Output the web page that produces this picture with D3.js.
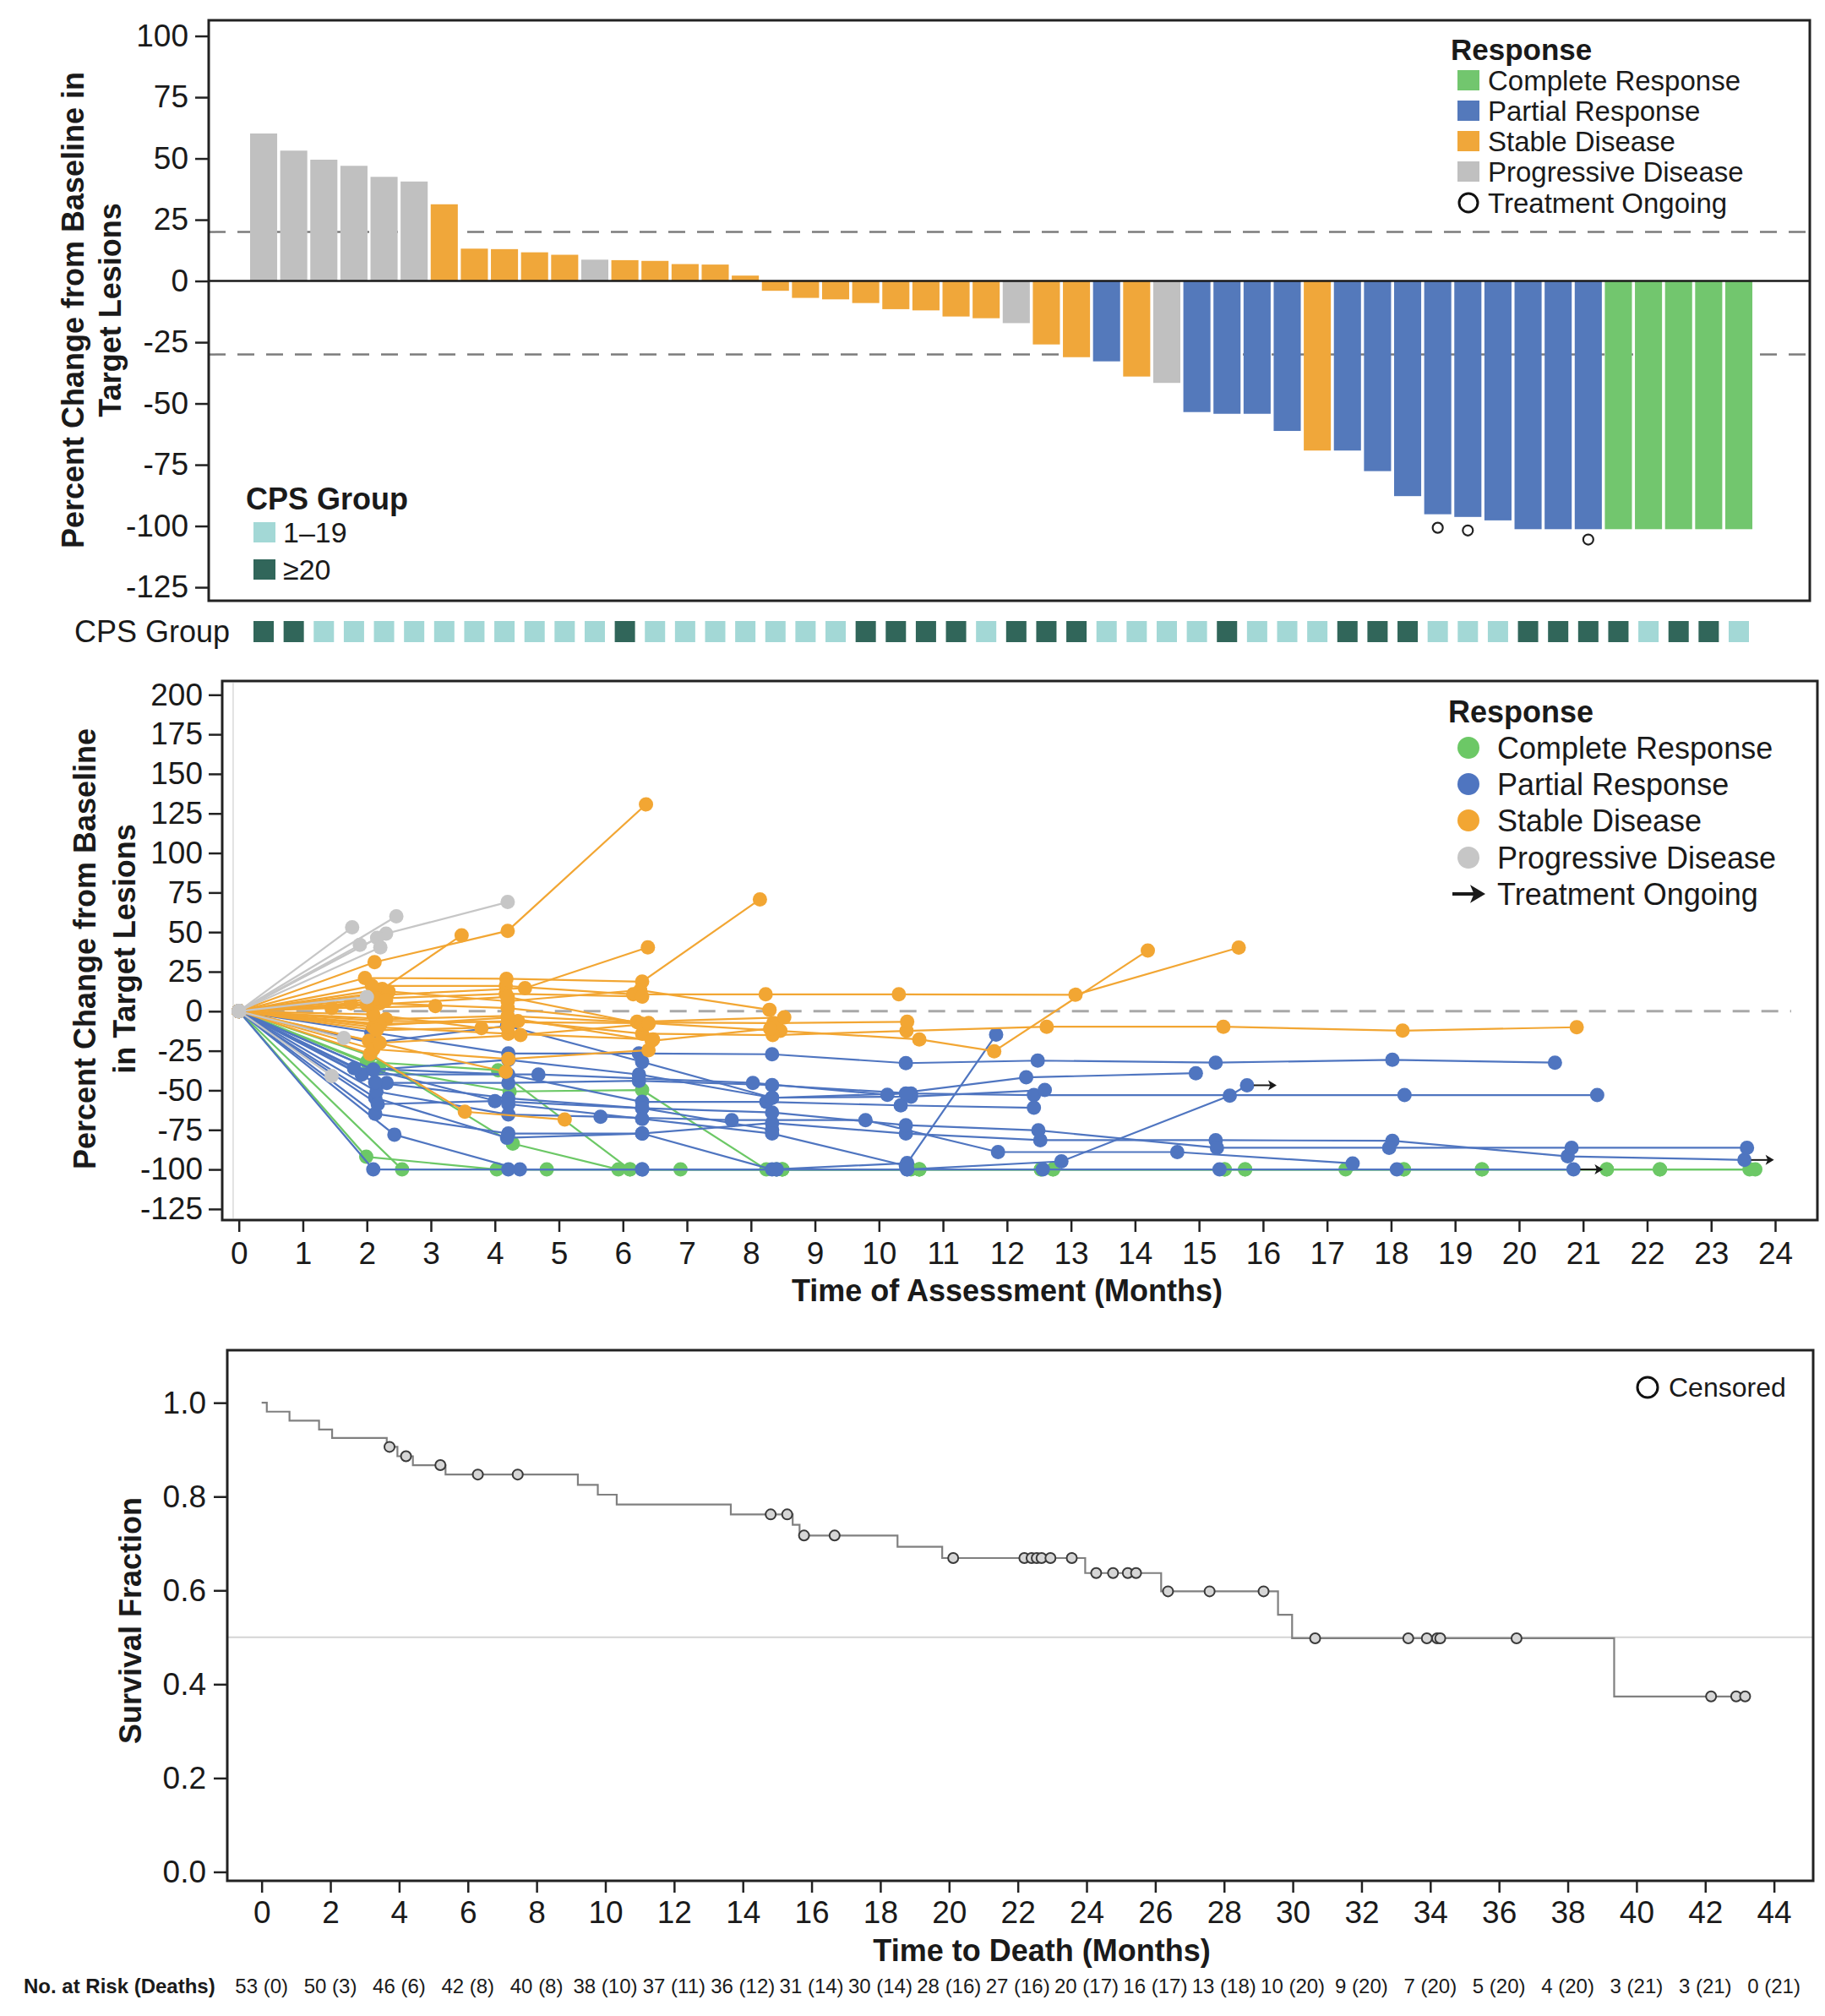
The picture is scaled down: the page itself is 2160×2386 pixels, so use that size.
<!DOCTYPE html>
<html>
<head>
<meta charset="utf-8">
<script src="https://cdn.jsdelivr.net/npm/d3@7"></script>
<style>
  body { margin: 0; background: #fff; }
  text { font-family: "Liberation Sans", Arial, sans-serif; fill: #1a1a1a; }
</style>
</head>
<body>
<div class="chart"></div>
<script>
// ---------------- waterfall data (best % change, one bar per patient) ----------------
var wfValues = [60.2, 53.2, 49.5, 47, 42.5, 40.6, 31.3, 13.2, 13, 11.7, 10.7, 8.7, 8.5, 8.2, 6.9, 6.7, 2.2,
  -4, -6.9, -7.5, -9, -11.5, -12, -14.5, -15.2, -17.2, -25.9, -31.1, -32.8, -39, -41.6, -53.5, -54.2,
  -54.2, -61.2, -69.2, -69.2, -77.6, -87.8, -95.2, -96.3, -97.7, -100, -100, -100, -100, -100, -100, -100, -100];
var wfResponse = ["PD", "PD", "PD", "PD", "PD", "PD", "SD", "SD", "SD", "SD", "SD", "PD", "SD", "SD", "SD",
  "SD", "SD", "SD", "SD", "SD", "SD", "SD", "SD", "SD", "SD", "PD", "SD", "SD", "PR", "SD", "PD", "PR", "PR",
  "PR", "PR", "SD", "PR", "PR", "PR", "PR", "PR", "PR", "PR", "PR", "PR", "CR", "CR", "CR", "CR", "CR"];
// 1 = CPS 1-19, 2 = CPS >=20
var wfCps = [2, 2, 1, 1, 1, 1, 1, 1, 1, 1, 1, 1, 2, 1, 1, 1, 1, 1, 1, 1, 2, 2, 2, 2, 1, 2, 2, 2, 1, 1, 1, 1, 2,
  1, 1, 1, 2, 2, 2, 1, 1, 1, 2, 2, 2, 2, 1, 2, 2, 1];
var wfOngoing = [39, 40, 44];
var wfTicks = [100, 75, 50, 25, 0, -25, -50, -75, -100, -125];
var wfRefLines = [20, -30];

// ---------------- spider plot data: [month, % change] per patient ----------------
var spiderCR = [
  [[0, 0], [1.99, -92], [4.03, -100], [6.9, -100], [8.49, -100], [10.63, -100], [12.72, -100], [15.72, -100], [18.2, -100], [21.37, -100], [22.2, -100], [23.6, -100]],
  [[0, 0], [2.55, -100], [4.81, -100], [6.11, -100], [8.49, -100], [10.63, -100], [12.53, -100], [15.4, -100], [17.29, -100], [19.42, -100], [22.2, -100], [23.69, -100]],
  [[0, 0], [2.19, -36], [4.23, -50.7], [6.3, -49.8], [8.24, -100], [10.5, -100]],
  [[0, 0], [2.05, -28], [4.28, -83.7], [5.93, -100], [8.49, -100], [10.63, -100], [12.53, -100], [15.4, -100], [18.2, -100]],
  [[0, 0], [2.0, -32], [4.05, -37.3], [6.11, -100], [8.4, -100], [12.72, -100], [15.72, -100], [19.42, -100], [21.37, -100]]
];
var spiderPR = [
  [[0, 0], [2.13, -54.7], [4.19, -80], [6.3, -77.3], [8.33, -100], [10.44, -96], [11.83, -14.8]],
  [[0, 0], [2.07, -13.3], [4.21, -26.7], [6.25, -26.7], [8.33, -27.2], [10.42, -32.8], [12.48, -31.2], [15.26, -32.5], [18.02, -30.7], [20.56, -32.5]],
  [[0, 0], [1.92, -40], [4.68, -40], [8.03, -45.3], [10.13, -52.8], [12.3, -41.8], [14.95, -39.2]],
  [[0, 0], [2.31, -45.3], [4.21, -45.3], [6.25, -44], [8.33, -46.7], [10.5, -52], [12.42, -53], [18.21, -53], [21.22, -53]],
  [[0, 0], [2.43, -78], [4.39, -100], [6.3, -100], [8.4, -100], [10.44, -100], [12.85, -94.9], [15.48, -53.4], [15.75, -46.8]],
  [[0, 0], [2.15, -50.7], [4.21, -65.3], [5.65, -66.7], [7.7, -68.8], [9.79, -68.8], [11.86, -89], [14.66, -89], [17.4, -96.2]],
  [[0, 0], [2.13, -64.8], [4.21, -77.3], [6.3, -77.3], [8.33, -70.7], [10.42, -77.3], [12.52, -81.5], [15.26, -81.5], [18.02, -81.9], [20.76, -91.7], [23.52, -94]],
  [[0, 0], [2.17, -58.7], [4.0, -56.8], [6.3, -61.3], [8.33, -64], [10.42, -72], [12.49, -75.3], [15.28, -86.3], [17.97, -86.3], [20.82, -86.3], [23.56, -86.3]],
  [[0, 0], [1.8, -36], [4.21, -40], [6.3, -57.3], [8.24, -57.3], [10.34, -59.5], [12.42, -61]],
  [[0, 0], [2.07, -20], [4.19, -9.3], [6.3, -32], [8.33, -54.7], [10.5, -54], [12.59, -49.8]],
  [[0, 0], [2.1, -100], [4.21, -100], [6.3, -100], [8.4, -100], [10.44, -100], [12.56, -100], [15.32, -100], [18.09, -100], [20.85, -100]],
  [[0, 0], [2.13, -45], [4.21, -55], [6.3, -61.3], [8.33, -75]],
  [[0, 0], [2.1, -37], [4.21, -30.7], [6.25, -40], [8.33, -54.7], [10.42, -52]],
  [[0, 0], [2.1, -37], [4.21, -58.7], [6.3, -68], [8.33, -77.3], [10.42, -97.7]]
];
var spiderSD = [
  [[0, 0], [2.12, 31], [4.2, 50.8], [6.36, 130.7]],
  [[0, 0], [2.24, 14], [3.48, 48]],
  [[0, 0], [1.97, 21], [4.18, 20.5], [6.3, 18.7], [8.14, 70.7]],
  [[0, 0], [2.1, 10], [4.47, 14.6], [6.39, 40.4]],
  [[0, 0], [2.08, 16], [4.17, 16], [6.16, 10.7], [8.23, 10.7], [10.31, 10.7], [13.07, 10.4], [15.62, 40.2]],
  [[0, 0], [2.15, -6], [4.21, -7], [6.4, -7.5], [8.46, -12.4], [10.63, -17.8], [11.8, -25.3], [14.2, 38.4]],
  [[0, 0], [2.2, -8], [4.36, -6.2], [6.3, -14.2], [8.34, -15.1], [10.43, -12.4], [12.62, -9.8], [15.38, -9.8], [18.18, -12.3], [20.9, -10.1]],
  [[0, 0], [2.05, -27], [3.53, -63.5], [5.09, -68.5]],
  [[0, 0], [2.03, -18.7], [4.17, -38.3]],
  [[0, 0], [2.1, -24], [4.21, -30.2], [6.4, -24.6]],
  [[0, 0], [2.3, -5], [4.2, -3], [6.23, -7.1], [8.35, -7.5], [10.44, -6.7]],
  [[0, 0], [2.34, 12.5], [4.2, 6.3], [6.27, 13.3], [8.29, 0.9]],
  [[0, 0], [2.2, 5], [4.2, 2], [6.22, -6.7], [8.52, -3.9]],
  [[0, 0], [2.1, -10], [4.21, -14.2], [6.47, -17.8]],
  [[0, 0], [2.15, 8], [4.17, 11], [6.3, 9.3]],
  [[0, 0], [1.45, 2], [3.07, 3.2]],
  [[0, 0], [2.1, -2], [3.79, -10.7]],
  [[0, 0], [2.2, -9], [4.2, -4], [6.45, -18.7], [8.3, -11]],
  [[0, 0], [2.0, 4], [4.2, 9], [6.3, -8]],
  [[0, 0], [1.75, 5], [2.3, 7]],
  [[0, 0], [2.15, -12], [4.2, -10]],
  [[0, 0], [2.2, -20], [4.4, -15], [6.4, -8]]
];
var spiderPD = [
  [[0, 0], [1.77, 53]],
  [[0, 0], [2.46, 60]],
  [[0, 0], [2.3, 49], [4.2, 69]],
  [[0, 0], [2.16, 46.3]],
  [[0, 0], [1.89, 41.9]],
  [[0, 0], [2.21, 40.4]],
  [[0, 0], [1.64, -16.9]],
  [[0, 0], [1.45, -40.9]],
  [[0, 0], [2.0, 9]]
];
var spiderOngoingPR = [4, 6, 10];
var spiderXTicks = [0, 1, 2, 3, 4, 5, 6, 7, 8, 9, 10, 11, 12, 13, 14, 15, 16, 17, 18, 19, 20, 21, 22, 23, 24];
var spiderYTicks = [200, 175, 150, 125, 100, 75, 50, 25, 0, -25, -50, -75, -100, -125];

// ---------------- Kaplan-Meier data ----------------
var kmTimes = [0, 0.15, 0.81, 1.67, 2.05, 3.64, 3.95, 4.4, 5.35, 9.2, 9.78, 10.33, 13.65, 15.45, 15.65,
  18.5, 19.8, 23.96, 26.17, 29.57, 29.98, 39.35];
var kmSurv = [1.0, 0.981, 0.962, 0.943, 0.925, 0.906, 0.886, 0.867, 0.847, 0.825, 0.804, 0.783, 0.762, 0.740, 0.717,
  0.693, 0.669, 0.637, 0.598, 0.548, 0.498, 0.374];
var kmLastTime = 43.16;
var censorTimes = [3.72, 4.2, 5.2, 6.29, 7.45, 14.81, 15.29, 15.78, 16.67, 20.12, 22.19, 22.4, 22.55, 22.69, 22.95,
  23.57, 24.28, 24.77, 25.2, 25.44, 26.37, 27.58, 29.15, 30.65, 33.36, 33.9, 34.2, 34.29, 36.51, 42.17, 42.9, 43.16];
var kmXTicks = [0, 2, 4, 6, 8, 10, 12, 14, 16, 18, 20, 22, 24, 26, 28, 30, 32, 34, 36, 38, 40, 42, 44];
var kmYTicks = [0, 0.2, 0.4, 0.6, 0.8, 1.0];
var riskLabels = ["53 (0)", "50 (3)", "46 (6)", "42 (8)", "40 (8)", "38 (10)", "37 (11)", "36 (12)", "31 (14)",
  "30 (14)", "28 (16)", "27 (16)", "20 (17)", "16 (17)", "13 (18)", "10 (20)", "9 (20)", "7 (20)", "5 (20)",
  "4 (20)", "3 (21)", "3 (21)", "0 (21)"];

// ---------------- legends ----------------
var responseNames = ["Complete Response", "Partial Response", "Stable Disease", "Progressive Disease"];
var responseKeys = ["CR", "PR", "SD", "PD"];
var cpsNames = ["1\u201319", "\u226520"];

var barColors = { CR: "#72c66e", PR: "#5479bb", SD: "#f0a73a", PD: "#c0c0c0" };
var dotColors = { CR: "#6cc866", PR: "#4f75c0", SD: "#f2a633", PD: "#c6c6c6" };
var cpsColors = { 1: "#a3d8d6", 2: "#31665a" };
var FONT = "'Liberation Sans', Arial, sans-serif";

var svg = d3.select(".chart")
  .append("svg")
  .attr("width", 2160)
  .attr("height", 2386)
  .style("background", "#fff");

function styleAxis(g, size) {
  g.select(".domain").remove();
  g.selectAll(".tick line").attr("stroke", "#222").attr("stroke-width", 2.5);
  g.selectAll(".tick text")
    .attr("font-size", size)
    .attr("font-family", FONT)
    .attr("fill", "#1a1a1a");
}

function frame(box) {
  svg.append("rect")
    .attr("x", box.left)
    .attr("y", box.top)
    .attr("width", box.right - box.left)
    .attr("height", box.bottom - box.top)
    .attr("fill", "none")
    .attr("stroke", "#222")
    .attr("stroke-width", 3);
}

function rotatedTitle(x, y, label) {
  svg.append("text")
    .attr("transform", `translate(${x}, ${y}) rotate(-90)`)
    .attr("text-anchor", "middle")
    .attr("dominant-baseline", "central")
    .attr("font-size", 36)
    .attr("font-weight", "bold")
    .text(label);
}

// =============== Panel 1: waterfall ===============
var wf = { left: 247, right: 2142, top: 24, bottom: 711 };

var wfX = d3.scaleBand()
  .domain(d3.range(wfValues.length))
  .range([294.2, 2075.8])
  .paddingInner(0.1)
  .paddingOuter(0.05);

var wfY = d3.scaleLinear()
  .domain([-130.5, 106.4])
  .range([wf.bottom, wf.top]);

// reference lines
svg.selectAll(".wf-ref")
  .data(wfRefLines)
  .enter()
  .append("line")
  .attr("x1", wf.left)
  .attr("x2", wf.right)
  .attr("y1", d => wfY(d))
  .attr("y2", d => wfY(d))
  .attr("stroke", "#7c7c7c")
  .attr("stroke-width", 2.5)
  .attr("stroke-dasharray", "20,14");

// bars (a -100 bar is drawn 1.3 units past the tick, as in the source)
svg.append("g")
  .selectAll("rect")
  .data(wfValues)
  .enter()
  .append("rect")
  .attr("x", (d, i) => wfX(i))
  .attr("width", wfX.bandwidth())
  .attr("y", d => wfY(Math.max(0, d)))
  .attr("height", d => Math.abs(wfY(d <= -100 ? d - 1.3 : d) - wfY(0)))
  .attr("fill", (d, i) => barColors[wfResponse[i]]);

// zero line
svg.append("line")
  .attr("x1", wf.left)
  .attr("x2", wf.right)
  .attr("y1", wfY(0))
  .attr("y2", wfY(0))
  .attr("stroke", "#1a1a1a")
  .attr("stroke-width", 2.5);

// treatment ongoing markers
svg.selectAll(".wf-ongoing")
  .data(wfOngoing)
  .enter()
  .append("circle")
  .attr("cx", d => wfX(d) + wfX.bandwidth() / 2)
  .attr("cy", d => wfY(wfValues[d]) + 16)
  .attr("r", 6)
  .attr("fill", "#fff")
  .attr("stroke", "#222")
  .attr("stroke-width", 2.2);

var wfAxis = svg.append("g")
  .attr("transform", `translate(${wf.left}, 0)`)
  .call(d3.axisLeft(wfY).tickValues(wfTicks).tickSize(16).tickPadding(8).tickFormat(d => String(d)));
styleAxis(wfAxis, 37);
frame(wf);

rotatedTitle(86, 367, "Percent Change from Baseline in");
rotatedTitle(130, 367, "Target Lesions");

// response legend
svg.append("text")
  .attr("x", 1717).attr("y", 58)
  .attr("dominant-baseline", "central")
  .attr("font-size", 35).attr("font-weight", "bold")
  .text("Response");

var wfLegendRows = [95, 131, 167, 203];
responseKeys.forEach(function (k, i) {
  svg.append("rect")
    .attr("x", 1725).attr("y", wfLegendRows[i] - 12)
    .attr("width", 26).attr("height", 24)
    .attr("fill", barColors[k]);
  svg.append("text")
    .attr("x", 1761).attr("y", wfLegendRows[i])
    .attr("dominant-baseline", "central")
    .attr("font-size", 33)
    .text(responseNames[i]);
});
svg.append("circle")
  .attr("cx", 1738).attr("cy", 240).attr("r", 11)
  .attr("fill", "none").attr("stroke", "#111").attr("stroke-width", 3);
svg.append("text")
  .attr("x", 1761).attr("y", 240)
  .attr("dominant-baseline", "central")
  .attr("font-size", 33)
  .text("Treatment Ongoing");

// CPS legend
svg.append("text")
  .attr("x", 291).attr("y", 590)
  .attr("dominant-baseline", "central")
  .attr("font-size", 36).attr("font-weight", "bold")
  .text("CPS Group");
[630, 674].forEach(function (y, i) {
  svg.append("rect")
    .attr("x", 300).attr("y", y - 12)
    .attr("width", 26).attr("height", 24)
    .attr("fill", cpsColors[i + 1]);
  svg.append("text")
    .attr("x", 335).attr("y", y)
    .attr("dominant-baseline", "central")
    .attr("font-size", 34)
    .text(cpsNames[i]);
});

// CPS strip under bars
svg.append("text")
  .attr("x", 272).attr("y", 747)
  .attr("text-anchor", "end")
  .attr("dominant-baseline", "central")
  .attr("font-size", 36)
  .text("CPS Group");

svg.append("g")
  .selectAll("rect")
  .data(wfCps)
  .enter()
  .append("rect")
  .attr("x", (d, i) => wfX(i) + wfX.bandwidth() / 2 - 12)
  .attr("y", 735)
  .attr("width", 24)
  .attr("height", 25)
  .attr("fill", d => cpsColors[d]);

// =============== Panel 2: spider plot ===============
var sp = { left: 263, right: 2151, top: 806, bottom: 1444 };

var spX = d3.scaleLinear().domain([-0.26, 24.66]).range([sp.left, sp.right]);
var spY = d3.scaleLinear().domain([-132, 208.7]).range([sp.bottom, sp.top]);

svg.append("line")
  .attr("x1", spX(-0.09)).attr("x2", spX(-0.09))
  .attr("y1", sp.top + 2).attr("y2", sp.bottom - 2)
  .attr("stroke", "#e2e2e2").attr("stroke-width", 2);

svg.append("line")
  .attr("x1", spX(0)).attr("x2", spX(24.25))
  .attr("y1", spY(0)).attr("y2", spY(0))
  .attr("stroke", "#a8a8a8").attr("stroke-width", 3)
  .attr("stroke-dasharray", "20,14");

var spLine = d3.line()
  .x(d => spX(d[0]))
  .y(d => spY(d[1]));

function drawGroup(series, key) {
  var g = svg.append("g").classed("spider-" + key, true);
  g.selectAll("path")
    .data(series)
    .enter()
    .append("path")
    .attr("d", spLine)
    .attr("fill", "none")
    .attr("stroke", dotColors[key])
    .attr("stroke-width", 2.2);
  series.forEach(function (s) {
    g.selectAll(null)
      .data(s)
      .enter()
      .append("circle")
      .attr("cx", d => spX(d[0]))
      .attr("cy", d => spY(d[1]))
      .attr("r", 8.5)
      .attr("fill", dotColors[key]);
  });
}

drawGroup(spiderCR, "CR");
drawGroup(spiderPR, "PR");
drawGroup(spiderSD, "SD");
drawGroup(spiderPD, "PD");

function arrow(x1, y, x2, w, head) {
  svg.append("line")
    .attr("x1", x1).attr("x2", x2 - head * 0.6)
    .attr("y1", y).attr("y2", y)
    .attr("stroke", "#1a1a1a").attr("stroke-width", w);
  svg.append("path")
    .attr("d", `M${x2},${y} L${x2 - head},${y - head * 0.6} L${x2 - head * 0.75},${y} L${x2 - head},${y + head * 0.6} Z`)
    .attr("fill", "#1a1a1a");
}

spiderOngoingPR.forEach(function (i) {
  var last = spiderPR[i][spiderPR[i].length - 1];
  var x0 = spX(last[0]);
  arrow(x0 + 8, spY(last[1]), x0 + 35, 2, 10);
});

var spXAxis = svg.append("g")
  .attr("transform", `translate(0, ${sp.bottom})`)
  .call(d3.axisBottom(spX).tickValues(spiderXTicks).tickSize(14).tickPadding(12).tickFormat(d => String(d)));
styleAxis(spXAxis, 37);

var spYAxis = svg.append("g")
  .attr("transform", `translate(${sp.left}, 0)`)
  .call(d3.axisLeft(spY).tickValues(spiderYTicks).tickSize(16).tickPadding(7).tickFormat(d => String(d)));
styleAxis(spYAxis, 37);
frame(sp);

svg.append("text")
  .attr("x", 1192).attr("y", 1527)
  .attr("text-anchor", "middle")
  .attr("dominant-baseline", "central")
  .attr("font-size", 36).attr("font-weight", "bold")
  .text("Time of Assessment (Months)");

rotatedTitle(100, 1123, "Percent Change from Baseline");
rotatedTitle(147, 1123, "in Target Lesions");

svg.append("text")
  .attr("x", 1714).attr("y", 842)
  .attr("dominant-baseline", "central")
  .attr("font-size", 36).attr("font-weight", "bold")
  .text("Response");
var spLegendRows = [885, 928, 971, 1015];
responseKeys.forEach(function (k, i) {
  svg.append("circle")
    .attr("cx", 1738).attr("cy", spLegendRows[i]).attr("r", 13)
    .attr("fill", dotColors[k]);
  svg.append("text")
    .attr("x", 1772).attr("y", spLegendRows[i])
    .attr("dominant-baseline", "central")
    .attr("font-size", 36)
    .text(responseNames[i]);
});
arrow(1719, 1058, 1758, 4, 18);
svg.append("text")
  .attr("x", 1772).attr("y", 1058)
  .attr("dominant-baseline", "central")
  .attr("font-size", 36)
  .text("Treatment Ongoing");

// =============== Panel 3: Kaplan-Meier ===============
var km = { left: 269, right: 2146, top: 1598, bottom: 2226 };

var kmX = d3.scaleLinear().domain([-1.0, 45.14]).range([km.left, km.right]);
var kmY = d3.scaleLinear().domain([-0.019, 1.112]).range([km.bottom, km.top]);

svg.append("line")
  .attr("x1", km.left).attr("x2", km.right)
  .attr("y1", kmY(0.5)).attr("y2", kmY(0.5))
  .attr("stroke", "#d4d4d4").attr("stroke-width", 2);

var kmPoints = kmTimes.map((t, i) => [t, kmSurv[i]]);
kmPoints.push([kmLastTime, kmSurv[kmSurv.length - 1]]);

svg.append("path")
  .datum(kmPoints)
  .attr("d", d3.line().curve(d3.curveStepAfter).x(d => kmX(d[0])).y(d => kmY(d[1])))
  .attr("fill", "none")
  .attr("stroke", "#808080")
  .attr("stroke-width", 2.2);

svg.append("g")
  .selectAll("circle")
  .data(censorTimes)
  .enter()
  .append("circle")
  .attr("cx", d => kmX(d))
  .attr("cy", d => kmY(kmSurv[d3.bisectRight(kmTimes, d) - 1]))
  .attr("r", 6)
  .attr("fill", "#d6d6d6")
  .attr("stroke", "#3a3a3a")
  .attr("stroke-width", 2);

var kmXAxis = svg.append("g")
  .attr("transform", `translate(0, ${km.bottom})`)
  .call(d3.axisBottom(kmX).tickValues(kmXTicks).tickSize(14).tickPadding(10).tickFormat(d => String(d)));
styleAxis(kmXAxis, 37);

var kmYAxis = svg.append("g")
  .attr("transform", `translate(${km.left}, 0)`)
  .call(d3.axisLeft(kmY).tickValues(kmYTicks).tickSize(16).tickPadding(9).tickFormat(d3.format(".1f")));
styleAxis(kmYAxis, 37);
frame(km);

svg.append("text")
  .attr("x", 1233).attr("y", 2308)
  .attr("text-anchor", "middle")
  .attr("dominant-baseline", "central")
  .attr("font-size", 36).attr("font-weight", "bold")
  .text("Time to Death (Months)");

rotatedTitle(154, 1918, "Survival Fraction");

svg.append("circle")
  .attr("cx", 1950).attr("cy", 1642).attr("r", 12)
  .attr("fill", "none").attr("stroke", "#111").attr("stroke-width", 3);
svg.append("text")
  .attr("x", 1975).attr("y", 1642)
  .attr("dominant-baseline", "central")
  .attr("font-size", 32)
  .text("Censored");

// numbers at risk
svg.append("text")
  .attr("x", 28).attr("y", 2350)
  .attr("dominant-baseline", "central")
  .attr("font-size", 24).attr("font-weight", "bold")
  .text("No. at Risk (Deaths)");

svg.append("g")
  .selectAll("text")
  .data(riskLabels)
  .enter()
  .append("text")
  .attr("x", (d, i) => kmX(kmXTicks[i]))
  .attr("y", 2350)
  .attr("text-anchor", "middle")
  .attr("dominant-baseline", "central")
  .attr("font-size", 24)
  .text(d => d);
</script>
</body>
</html>
